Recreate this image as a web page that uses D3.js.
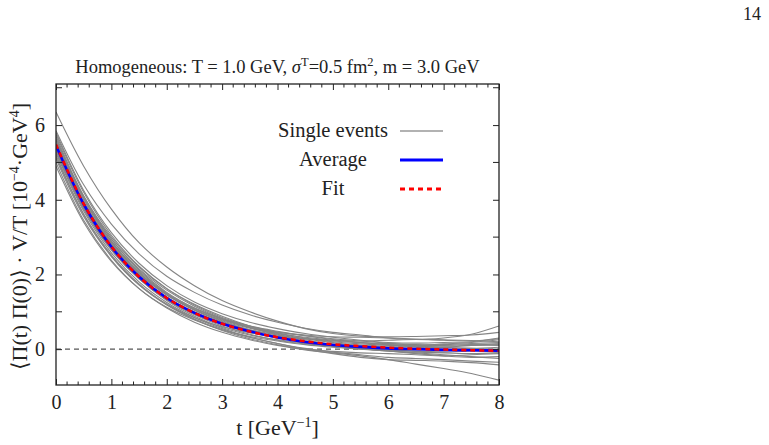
<!DOCTYPE html>
<html><head><meta charset="utf-8">
<script src="https://cdn.jsdelivr.net/npm/d3@7"></script>
<style>body{margin:0;background:#fff}svg{display:block}text{font-family:"Liberation Serif","DejaVu Serif",serif;fill:#222}</style>
</head><body><svg id="c" width="769" height="445"></svg>
<script>
// ---- data ----
const tGrid = [0,0.5,1,1.5,2,2.5,3,3.5,4,4.5,5,5.5,6,6.5,7,7.5,8];
const singleEvents = [
 [6.35,4.90,3.75,2.85,2.20,1.70,1.30,1.00,0.75,0.55,0.42,0.35,0.33,0.34,0.36,0.38,0.45],
 [5.85,4.40,3.35,2.55,1.95,1.52,1.18,0.92,0.72,0.56,0.45,0.38,0.30,0.26,0.30,0.40,0.62],
 [5.60,4.10,3.00,2.20,1.62,1.20,0.88,0.62,0.42,0.28,0.18,0.10,0.05,0.02,0.05,0.10,0.15],
 [5.30,3.75,2.65,1.88,1.33,0.95,0.66,0.45,0.30,0.18,0.08,0.00,-0.05,-0.10,-0.15,-0.20,-0.25],
 [5.50,3.90,2.80,2.00,1.45,1.05,0.78,0.58,0.45,0.38,0.33,0.32,0.30,0.27,0.25,0.23,0.20],
 [5.20,3.60,2.50,1.72,1.18,0.80,0.52,0.32,0.15,0.02,-0.08,-0.15,-0.22,-0.25,-0.28,-0.32,-0.35],
 [5.40,3.85,2.75,1.97,1.40,1.00,0.72,0.52,0.38,0.28,0.20,0.14,0.10,0.08,0.05,0.02,0.00],
 [5.65,4.05,2.90,2.08,1.50,1.10,0.82,0.62,0.48,0.36,0.26,0.18,0.12,0.10,0.12,0.15,0.18],
 [5.00,3.45,2.38,1.62,1.10,0.72,0.45,0.25,0.10,-0.02,-0.10,-0.18,-0.28,-0.40,-0.52,-0.65,-0.83],
 [5.35,3.80,2.70,1.90,1.32,0.92,0.62,0.40,0.24,0.14,0.08,0.05,0.05,0.06,0.04,0.02,0.05],
 [5.55,4.00,2.88,2.05,1.48,1.08,0.80,0.58,0.40,0.25,0.12,0.02,-0.05,-0.08,-0.10,-0.12,-0.10],
 [4.90,3.40,2.35,1.62,1.12,0.78,0.52,0.34,0.22,0.12,0.05,0.00,-0.02,-0.05,-0.08,-0.05,-0.02],
 [5.75,4.20,3.05,2.22,1.62,1.18,0.85,0.62,0.44,0.30,0.22,0.17,0.15,0.12,0.10,0.12,0.10],
 [5.25,3.70,2.58,1.80,1.25,0.85,0.55,0.32,0.15,0.00,-0.12,-0.22,-0.28,-0.30,-0.32,-0.36,-0.42],
 [5.45,3.92,2.82,2.02,1.45,1.04,0.74,0.52,0.35,0.22,0.14,0.10,0.08,0.10,0.14,0.18,0.25],
 [5.10,3.55,2.48,1.72,1.20,0.84,0.60,0.44,0.34,0.28,0.24,0.22,0.24,0.26,0.24,0.22,0.28],
 [5.60,4.05,2.95,2.15,1.58,1.15,0.82,0.58,0.38,0.22,0.10,0.02,-0.05,-0.12,-0.18,-0.22,-0.20],
 [5.30,3.78,2.68,1.88,1.30,0.88,0.58,0.38,0.25,0.16,0.10,0.04,-0.02,-0.06,-0.04,0.00,-0.05],
 [5.80,4.25,3.12,2.30,1.70,1.26,0.95,0.72,0.55,0.42,0.32,0.24,0.18,0.16,0.18,0.20,0.30],
 [5.15,3.62,2.52,1.75,1.20,0.80,0.50,0.28,0.12,0.00,-0.06,-0.10,-0.12,-0.15,-0.18,-0.15,-0.12],
 [5.50,3.95,2.85,2.05,1.48,1.06,0.76,0.56,0.42,0.32,0.24,0.18,0.12,0.06,0.00,-0.04,-0.08],
 [5.70,4.10,2.95,2.12,1.52,1.10,0.80,0.60,0.46,0.36,0.28,0.22,0.16,0.10,0.08,0.10,0.12]
];
const average = [5.45,3.88,2.74,1.94,1.37,0.97,0.68,0.48,0.31,0.19,0.11,0.06,0.02,0.00,-0.02,-0.03,-0.04];
const fit     = [5.48,3.89,2.75,1.94,1.37,0.97,0.68,0.47,0.32,0.21,0.13,0.08,0.04,0.01,-0.01,-0.03,-0.04];
const xTicks = [0,1,2,3,4,5,6,7,8];
const yTicks = [0,2,4,6];
const legendLabels = ["Single events","Average","Fit"];

// ---- layout ----
const svg = d3.select("#c");
const L=56, R=499, T=84, B=385;
const x = d3.scaleLinear().domain([0,8]).range([L,R]);
const y = d3.scaleLinear().domain([-0.96,7.1]).range([B,T]);

svg.append("defs").append("clipPath").attr("id","clip")
  .append("rect").attr("x",L).attr("y",T).attr("width",R-L).attr("height",B-T);

const plot = svg.append("g").attr("clip-path","url(#clip)");
plot.append("line").attr("x1",L).attr("x2",R).attr("y1",y(0)).attr("y2",y(0))
  .attr("stroke","#555").attr("stroke-width",1.2).attr("stroke-dasharray","5,4");

const line = d3.line().x((d,i)=>x(tGrid[i])).y(d=>y(d)).curve(d3.curveCatmullRom);
plot.selectAll("path.ev").data(singleEvents).join("path").attr("class","ev")
  .attr("d",line).attr("fill","none").attr("stroke","#858585").attr("stroke-width",1.1);
plot.append("path").attr("d",line(average)).attr("fill","none").attr("stroke","#0000ff").attr("stroke-width",2.6);
plot.append("path").attr("d",line(fit)).attr("fill","none").attr("stroke","#ff0000").attr("stroke-width",2.6).attr("stroke-dasharray","5,4");

// axes with inward ticks
const minorX = d3.range(0,8.001,0.2);
const axB = d3.axisBottom(x).tickValues(xTicks).tickSize(-6).tickPadding(10).tickFormat(d3.format("d"));
const axT = d3.axisTop(x).tickValues(xTicks).tickSize(-6).tickFormat("");
const axL = d3.axisLeft(y).tickValues(yTicks).tickSize(-6).tickPadding(11).tickFormat(d3.format("d"));
const axR = d3.axisRight(y).tickValues(yTicks).tickSize(-6).tickFormat("");
function style(g){g.select(".domain").remove();g.selectAll("line").attr("stroke","#222");g.selectAll("text").attr("font-size",20).attr("font-family","Liberation Serif").attr("fill","#222");}
svg.append("g").attr("transform",`translate(0,${B})`).call(axB).call(style);
svg.append("g").attr("transform",`translate(0,${T})`).call(axT).call(style);
svg.append("g").attr("transform",`translate(${L},0)`).call(axL).call(style);
svg.append("g").attr("transform",`translate(${R},0)`).call(axR).call(style);
const minorY = [1,3,5,7];
const minorXv = minorX.filter(v=>Math.abs(v-Math.round(v))>1e-6);
svg.append("g").selectAll("line").data(minorXv).join("line")
  .attr("x1",d=>x(d)).attr("x2",d=>x(d)).attr("y1",B).attr("y2",B-3.5).attr("stroke","#222");
svg.append("g").selectAll("line").data(minorXv).join("line")
  .attr("x1",d=>x(d)).attr("x2",d=>x(d)).attr("y1",T).attr("y2",T+3.5).attr("stroke","#222");
svg.append("g").selectAll("line").data(minorY).join("line")
  .attr("x1",L).attr("x2",L+6).attr("y1",d=>y(d)).attr("y2",d=>y(d)).attr("stroke","#222");
svg.append("g").selectAll("line").data(minorY).join("line")
  .attr("x1",R).attr("x2",R-6).attr("y1",d=>y(d)).attr("y2",d=>y(d)).attr("stroke","#222");
svg.append("rect").attr("x",L).attr("y",T).attr("width",R-L).attr("height",B-T)
  .attr("fill","none").attr("stroke","#222").attr("stroke-width",1.3);

// title
const title = svg.append("text").attr("x",(L+R)/2).attr("y",73).attr("text-anchor","middle").attr("font-size",18.5);
title.append("tspan").text("Homogeneous: T = 1.0 GeV, ");
title.append("tspan").attr("font-style","italic").text("σ");
title.append("tspan").attr("font-size",12.5).attr("dy",-7).text("T");
title.append("tspan").attr("dy",7).text("=0.5 fm");
title.append("tspan").attr("font-size",12.5).attr("dy",-7).text("2");
title.append("tspan").attr("dy",7).text(", m = 3.0 GeV");

svg.append("text").attr("x",761).attr("y",20).attr("text-anchor","end").attr("font-size",18).text("14");

// x label
const xl = svg.append("text").attr("x",(L+R)/2).attr("y",435).attr("text-anchor","middle").attr("font-size",22);
xl.append("tspan").text("t [GeV");
xl.append("tspan").attr("font-size",14).attr("dy",-8).text("−1");
xl.append("tspan").attr("dy",8).text("]");

// y label
const yl = svg.append("text").attr("transform",`translate(27,${(T+B)/2+2}) rotate(-90)`).attr("text-anchor","middle").attr("font-size",22);
yl.append("tspan").text("⟨Π(t) Π(0)⟩ · V/T [10");
yl.append("tspan").attr("font-size",14).attr("dy",-8).text("−4");
yl.append("tspan").attr("dy",8).text("·GeV");
yl.append("tspan").attr("font-size",14).attr("dy",-8).text("4");
yl.append("tspan").attr("dy",8).text("]");

// legend
const legY = [131,160,189];
const legStyles = [{c:"#999",w:1.6,d:null},{c:"#0000ff",w:2.8,d:null},{c:"#ff0000",w:2.8,d:"5,4"}];
legendLabels.forEach((lab,i)=>{
  svg.append("text").attr("x",333).attr("y",legY[i]+6).attr("text-anchor","middle").attr("font-size",20.5).text(lab);
  const ln = svg.append("line").attr("x1",400).attr("x2",443).attr("y1",legY[i]).attr("y2",legY[i])
    .attr("stroke",legStyles[i].c).attr("stroke-width",legStyles[i].w);
  if(legStyles[i].d) ln.attr("stroke-dasharray",legStyles[i].d);
});
</script></body></html>
